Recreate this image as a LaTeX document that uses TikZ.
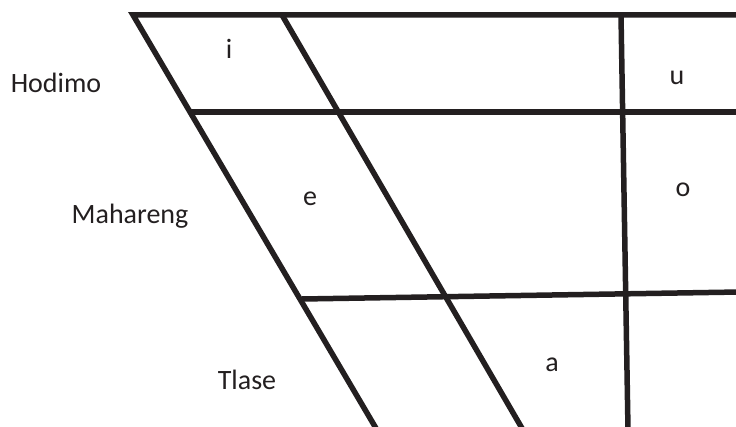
\documentclass[tikz,border=0pt]{standalone}
\usepackage{fontspec}
\setmainfont{Carlito}
\usetikzlibrary{positioning}
\definecolor{chartink}{HTML}{231F20}
\tikzset{
  x=1pt, y=-1pt,
  grid line/.style={line width=5.5pt, color=chartink},
  label text/.style={font=\fontsize{28}{32}\selectfont, text=chartink, inner sep=0pt},
}

\begin{document}
\begin{tikzpicture}
    \useasboundingbox (0,0) rectangle (736,427);
    \clip (0,0) rectangle (736,427);
    % corners
    \coordinate (tl) at (133,15);
    \coordinate (tr) at (740,15);
    \coordinate (bl) at (377,430);
    \coordinate (dtop) at (282,15);
    \coordinate (dbot) at (523,430);
    \coordinate (vtop) at (621,15);
    \coordinate (vbot) at (628,430);
    \coordinate (hodl) at (190,112);
    \coordinate (hodr) at (740,112);
    \coordinate (tlal) at (302,299);
    \coordinate (tlar) at (740,292);

    % lines
    \draw[grid line] (tr) -- (tl) -- (bl);
    \draw[grid line] (dtop) -- (dbot);
    \draw[grid line] (vtop) -- (vbot);
    \draw[grid line] (hodl) -- (hodr);
    \draw[grid line] (tlal) -- (tlar);

    % row labels
    \node[label text] (hodimo) at (56,83) {Hodimo};
    \node[label text] (mahareng) at (130,216) {Mahareng};
    \node[label text] (tlase) at (247,380) {Tlase};

    % vowels
    \node[label text] (i) at (229,49) {i};
    \node[label text] (u) at (677,78) {u};
    \node[label text] (e) at (310,199) {e};
    \node[label text] (o) at (683,190) {o};
    \node[label text] (a) at (552,365) {a};
\end{tikzpicture}
\end{document}
